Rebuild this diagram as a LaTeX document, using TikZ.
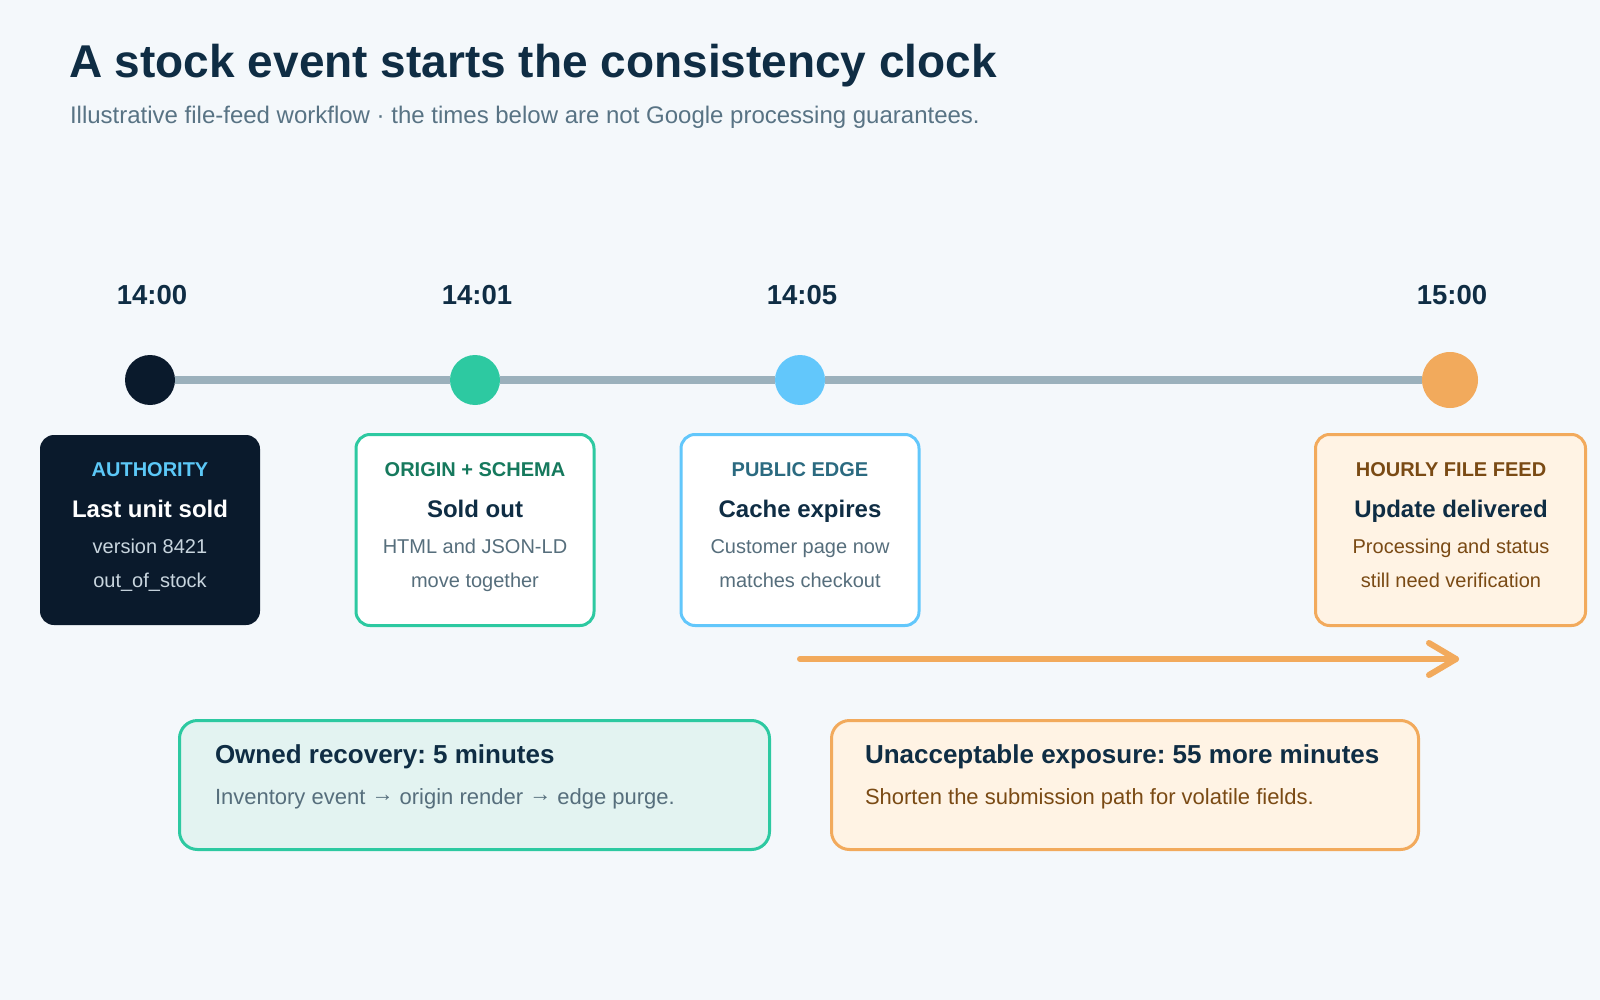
\documentclass[tikz,border=0pt]{standalone}
\usepackage{fontspec}
\setmainfont{Liberation Sans}
\newcommand\myfs[1]{\fontsize{#1}{#1}\selectfont}
\newcommand\midarrow{\raisebox{3pt}{→}}
\frenchspacing
\definecolor{bg}{HTML}{F4F8FB}
\definecolor{ink}{HTML}{0F2D44}
\definecolor{subgray}{HTML}{587384}
\definecolor{linegray}{HTML}{9BB1BC}
\definecolor{darknavy}{HTML}{0A1A2C}
\definecolor{teal}{HTML}{2DC9A1}
\definecolor{skyblue}{HTML}{62C7FB}
\definecolor{orange}{HTML}{F2AA5C}
\definecolor{cream}{HTML}{FFF3E4}
\definecolor{mint}{HTML}{E3F3F1}
\definecolor{labgreen}{HTML}{16795D}
\definecolor{labblue}{HTML}{2B6A80}
\definecolor{brown}{HTML}{7A4A14}
\definecolor{bodygray}{HTML}{566E7C}
\definecolor{lightgray}{HTML}{C8D5DE}
\definecolor{authblue}{HTML}{5CC8F7}
\begin{document}
\begin{tikzpicture}[x=1pt,y=-1pt,
  txt/.style={inner sep=0pt, outer sep=0pt, anchor=base},
  ltxt/.style={inner sep=0pt, outer sep=0pt, anchor=base west},
  dot/.style={circle, inner sep=0pt, draw=none},
  card/.style={rectangle, rounded corners=14pt, line width=3pt, minimum width=238pt, minimum height=191pt, inner sep=0pt},
  note/.style={rectangle, rounded corners=18pt, line width=3pt, minimum width=590pt, minimum height=129pt, inner sep=0pt},
  timeline/.style={draw=linegray, line width=8pt},
  arrowline/.style={draw=orange, line width=6pt, line cap=round, line join=round},
  timelab/.style={txt, font=\myfs{27.5}\bfseries, text=ink},
  cardlab/.style={txt, font=\myfs{20}\bfseries},
  cardtitle/.style={txt, font=\myfs{24}\bfseries, text=ink},
  cardbody/.style={txt, font=\myfs{20}, text=bodygray},
  notetitle/.style={ltxt, font=\myfs{26}\bfseries, text=ink},
  notebody/.style={ltxt, font=\myfs{22}}
]
\useasboundingbox[fill=bg] (0,0) rectangle (1600,1000);

% title
\node[ltxt, font=\myfs{46}\bfseries, text=ink] (title) at (69,78) {A stock event starts the consistency clock};
\node[ltxt, font=\myfs{24}, text=subgray] (subtitle) at (70,124) {Illustrative file-feed workflow · the times below are not Google processing guarantees.};

% timeline dots
\node[dot, fill=darknavy, minimum size=50pt] (d1) at (150,380) {};
\node[dot, fill=teal, minimum size=50pt] (d2) at (475,380) {};
\node[dot, fill=skyblue, minimum size=50pt] (d3) at (800,380) {};
\node[dot, fill=orange, minimum size=56pt] (d4) at (1450,380) {};
\draw[timeline] (d1) -- (d2);
\draw[timeline] (d2) -- (d3);
\draw[timeline] (d3) -- (d4);

% time labels
\node[timelab] (t1) at (152,305) {14:00};
\node[timelab] (t2) at (477,305) {14:01};
\node[timelab] (t3) at (802,305) {14:05};
\node[timelab] (t4) at (1452,305) {15:00};

% cards
\node[card, fill=darknavy, draw=none, minimum width=220pt, minimum height=190pt] (c1) at (150,530) {};
\node[card, fill=white, draw=teal] (c2) at (475,530) {};
\node[card, fill=white, draw=skyblue] (c3) at (800,530) {};
\node[card, fill=cream, draw=orange, minimum width=270pt] (c4) at (1450.5,530) {};

\node[cardlab, text=authblue] (c1a) at (150,476) {AUTHORITY};
\node[cardtitle, text=white] (c1b) at (150,517) {Last unit sold};
\node[cardbody, text=lightgray] (c1c) at (150,553) {version 8421};
\node[cardbody, text=lightgray] (c1d) at (150,587) {out\_of\_stock};

\node[cardlab, text=labgreen] (c2a) at (475,476) {ORIGIN + SCHEMA};
\node[cardtitle] (c2b) at (475,517) {Sold out};
\node[cardbody] (c2c) at (475,553) {HTML and JSON-LD};
\node[cardbody] (c2d) at (475,587) {move together};

\node[cardlab, text=labblue] (c3a) at (800,476) {PUBLIC EDGE};
\node[cardtitle] (c3b) at (800,517) {Cache expires};
\node[cardbody] (c3c) at (800,553) {Customer page now};
\node[cardbody] (c3d) at (800,587) {matches checkout};

\node[cardlab, text=brown] (c4a) at (1451,476) {HOURLY FILE FEED};
\node[cardtitle] (c4b) at (1451,517) {Update delivered};
\node[cardbody, text=brown] (c4c) at (1451,553) {Processing and status};
\node[cardbody, text=brown] (c4d) at (1451,587) {still need verification};

% exposure arrow
\coordinate (a1) at (800,659);
\coordinate (a2) at (1456,659);
\draw[arrowline] (a1) -- (a2);
\draw[arrowline] (a2) ++(-27,-16) -- (a2) -- ++(-27,16);

% notes
\node[note, fill=mint, draw=teal] (n1) at (474.5,785) {};
\node[note, fill=cream, draw=orange, minimum width=587pt] (n2) at (1125,785) {};
\node[notetitle] (n1a) at (215,763) {Owned recovery: 5 minutes};
\node[notebody, text=bodygray] (n1b) at (215,804) {Inventory event \midarrow{} origin render \midarrow{} edge purge.};
\node[notetitle] (n2a) at (865,763) {Unacceptable exposure: 55 more minutes};
\node[notebody, text=brown] (n2b) at (865,804) {Shorten the submission path for volatile fields.};
\end{tikzpicture}
\end{document}
